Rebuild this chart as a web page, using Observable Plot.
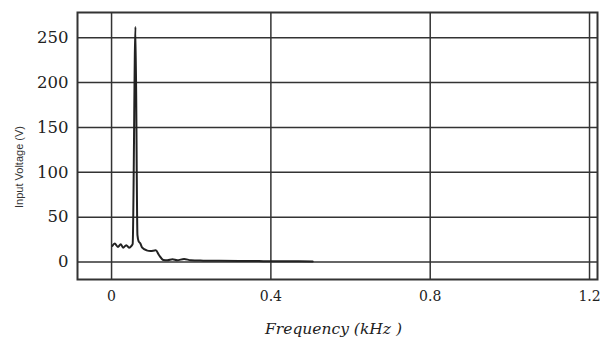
<!DOCTYPE html>
<html>
<head>
<meta charset="utf-8">
<script src="https://cdn.jsdelivr.net/npm/d3@7"></script>
<script src="https://cdn.jsdelivr.net/npm/@observablehq/plot@0.6"></script>
<style>
  html, body { margin: 0; padding: 0; background: #fff; }
  #chart svg { display: block; }
</style>
</head>
<body>
<div id="chart"></div>
<script>
const freq = [0.002, 0.008, 0.016, 0.023, 0.029, 0.037, 0.044, 0.050, 0.053, 0.060, 0.065, 0.068, 0.072, 0.077, 0.088, 0.098, 0.111, 0.119, 0.130, 0.140, 0.153, 0.165, 0.182, 0.199, 0.230, 0.270, 0.320, 0.370, 0.420, 0.470, 0.505];
const volt = [18, 20.5, 16.8, 19.8, 16, 18.7, 16, 18, 20, 262, 30, 23, 21, 16, 13, 12.3, 13, 7.8, 2.2, 1.9, 3, 1.9, 3.4, 1.9, 1.5, 1.3, 1.2, 1.0, 0.8, 0.8, 0.6];
const xTicks = [0, 0.4, 0.8, 1.2];
const yTicks = [0, 50, 100, 150, 200, 250];
const xLabel = "Frequency (kHz )";
const yLabel = "Input Voltage (V)";

const data = freq.map((f, i) => ({f, v: volt[i]}));
const serif = "DejaVu Serif, Liberation Serif, serif";

const chart = Plot.plot({
  width: 612,
  height: 338,
  marginLeft: 77,
  marginRight: 15,
  marginTop: 12,
  marginBottom: 59,
  style: {color: "#222", background: "#fff"},
  x: {domain: [-0.0855, 1.22]},
  y: {domain: [-19.5, 278]},
  marks: [
    Plot.gridX(xTicks, {stroke: "#333", strokeOpacity: 1, strokeWidth: 1.5}),
    Plot.gridY(yTicks, {stroke: "#333", strokeOpacity: 1, strokeWidth: 1.5}),
    Plot.frame({stroke: "#333", strokeWidth: 2}),
    Plot.axisX(xTicks, {tickSize: 0, tickPadding: 12, fontSize: 14, fontFamily: serif, tickFormat: d => d === 0 ? "0" : d3.format(".1f")(d), label: null}),
    Plot.axisY(yTicks, {tickSize: 0, tickPadding: 9, fontSize: 16.5, fontFamily: serif, label: null}),
    Plot.line(data, {x: "f", y: "v", stroke: "#222", strokeWidth: 2, curve: "monotone-x"}),
    Plot.text([xLabel], {frameAnchor: "bottom", dy: 54, dx: -4, fontSize: 15.5, fontStyle: "italic", fontFamily: serif, fill: "#222"}),
    Plot.text([yLabel], {frameAnchor: "left", textAnchor: "middle", dx: -58, dy: 21, rotate: -90, fontSize: 11, fontFamily: "Liberation Sans", fill: "#333"})
  ]
});
document.getElementById("chart").appendChild(chart);
</script>
</body>
</html>
